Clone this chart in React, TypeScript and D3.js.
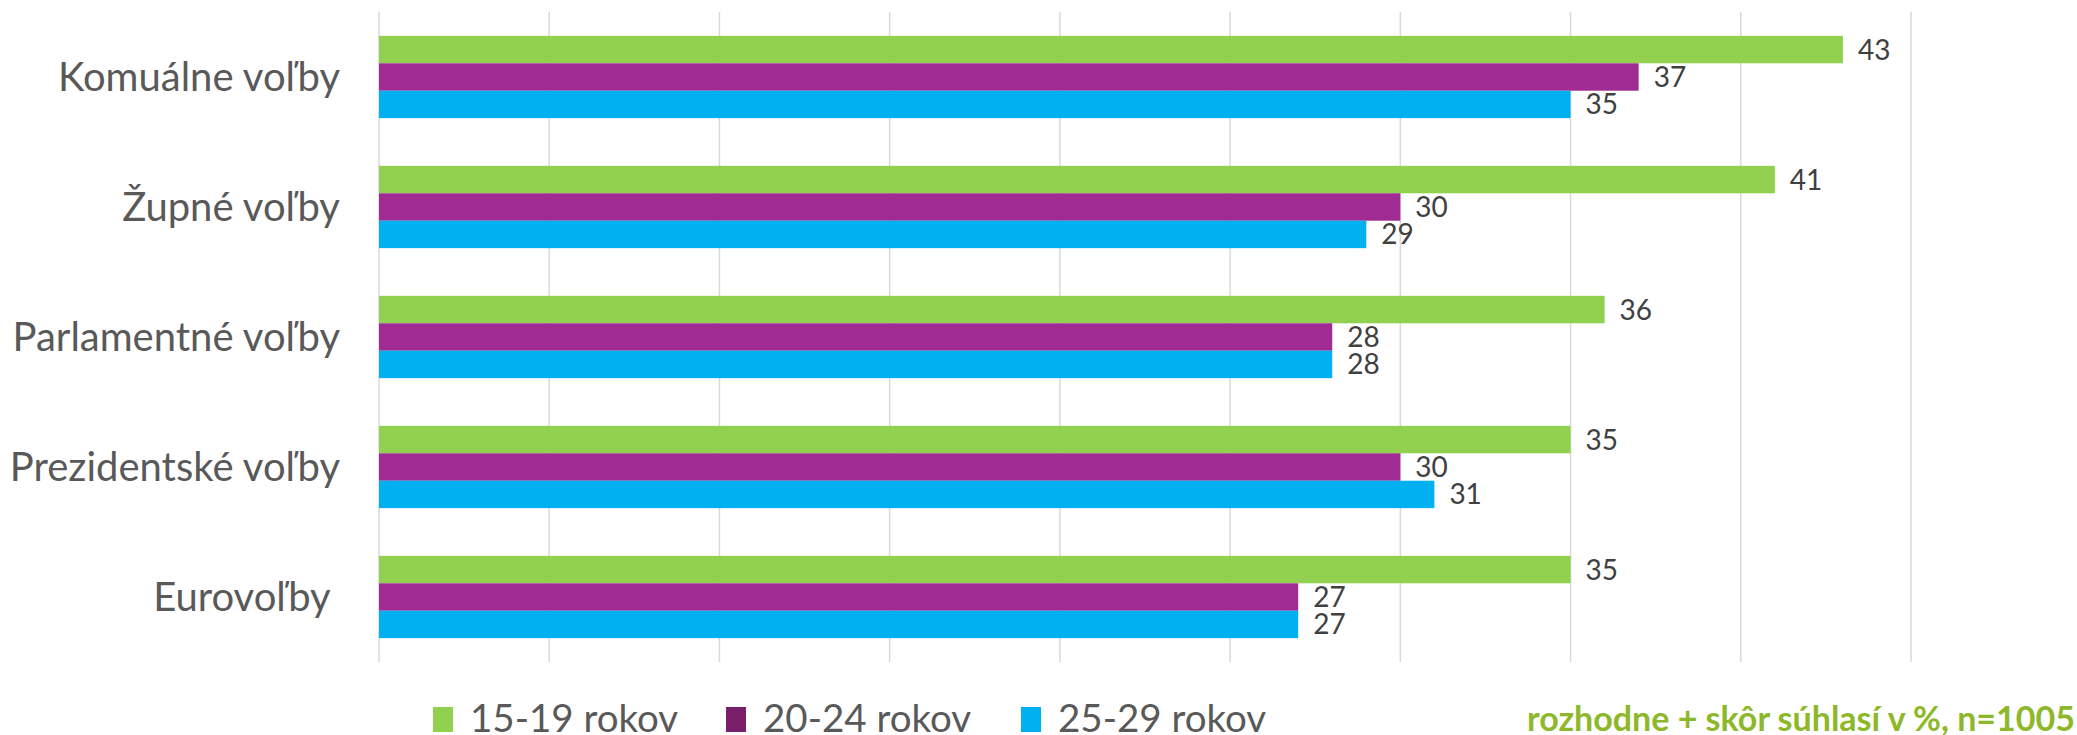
import React from 'react'
import * as d3 from 'd3'

const categories = ['Komuálne voľby', 'Župné voľby', 'Parlamentné voľby', 'Prezidentské voľby', 'Eurovoľby ']
const seriesNames = ['15-19 rokov', '20-24 rokov', '25-29 rokov']
const values1519 = [43, 41, 36, 35, 35]
const values2024 = [37, 30, 28, 30, 27]
const values2529 = [35, 29, 28, 31, 27]
const tickValues = [0, 5, 10, 15, 20, 25, 30, 35, 40, 45]
const noteText = 'rozhodne + skôr súhlasí v %, n=1005'

const barColors = ['#92D050', '#A02B93', '#00B0F0']
const legendColors = ['#92D050', '#7B1F6B', '#00B0F0']

const W = 2077
const H = 735
const font = 'Lato, "Open Sans", sans-serif'

const App = () => {
    const seriesValues = [values1519, values2024, values2529]
    const x = d3.scaleLinear().domain([0, 45]).range([379, 1911])
    const y = d3.scaleBand<string>()
        .domain(categories)
        .range([12, 662])
        .paddingInner(0.367)
        .paddingOuter(0.1835)
    const inner = d3.scaleBand<string>()
        .domain(seriesNames)
        .range([0, y.bandwidth()])

    const legendX = [433, 726, 1021]

    return (
        <svg width={W} height={H} style={{ position: 'absolute', left: 0, top: 0, background: '#fff' }}>
            {/* gridlines */}
            {tickValues.map((t) => (
                <line key={t} x1={x(t)} x2={x(t)} y1={12} y2={662} stroke='#D9D9D9' strokeWidth={1.5} />
            ))}

            {/* bars */}
            {categories.map((c, ci) => (
                <g key={c} transform={`translate(0,${y(c)})`}>
                    {seriesNames.map((s, si) => {
                        const v = seriesValues[si][ci]
                        const yy = inner(s) as number
                        return (
                            <g key={s}>
                                <rect x={x(0)} y={yy} width={x(v) - x(0)} height={inner.bandwidth()} fill={barColors[si]} />
                                <text x={x(v) + 15} y={yy + inner.bandwidth() / 2} dy='0.36em'
                                    fontFamily={font} fontSize={28} fill='#404040'>{v}</text>
                            </g>
                        )
                    })}
                </g>
            ))}

            {/* category labels */}
            {categories.map((c) => (
                <text key={c} x={340} y={(y(c) as number) + y.bandwidth() / 2} dy='0.36em' textAnchor='end'
                    fontFamily={font} fontSize={40} fill='#595959' style={{ whiteSpace: 'pre' }}>{c}</text>
            ))}

            {/* legend */}
            {seriesNames.map((s, i) => (
                <g key={s}>
                    <rect x={legendX[i]} y={707} width={20} height={25} fill={legendColors[i]} />
                    <text x={legendX[i] + 37} y={732} fontFamily={font} fontSize={38.5} fill='#595959'>{s}</text>
                </g>
            ))}

            <text x={1527} y={731} fontFamily={font} fontSize={34} fontWeight='bold' fill='#8DB82A'>{noteText}</text>
        </svg>
    )
}

export default App
